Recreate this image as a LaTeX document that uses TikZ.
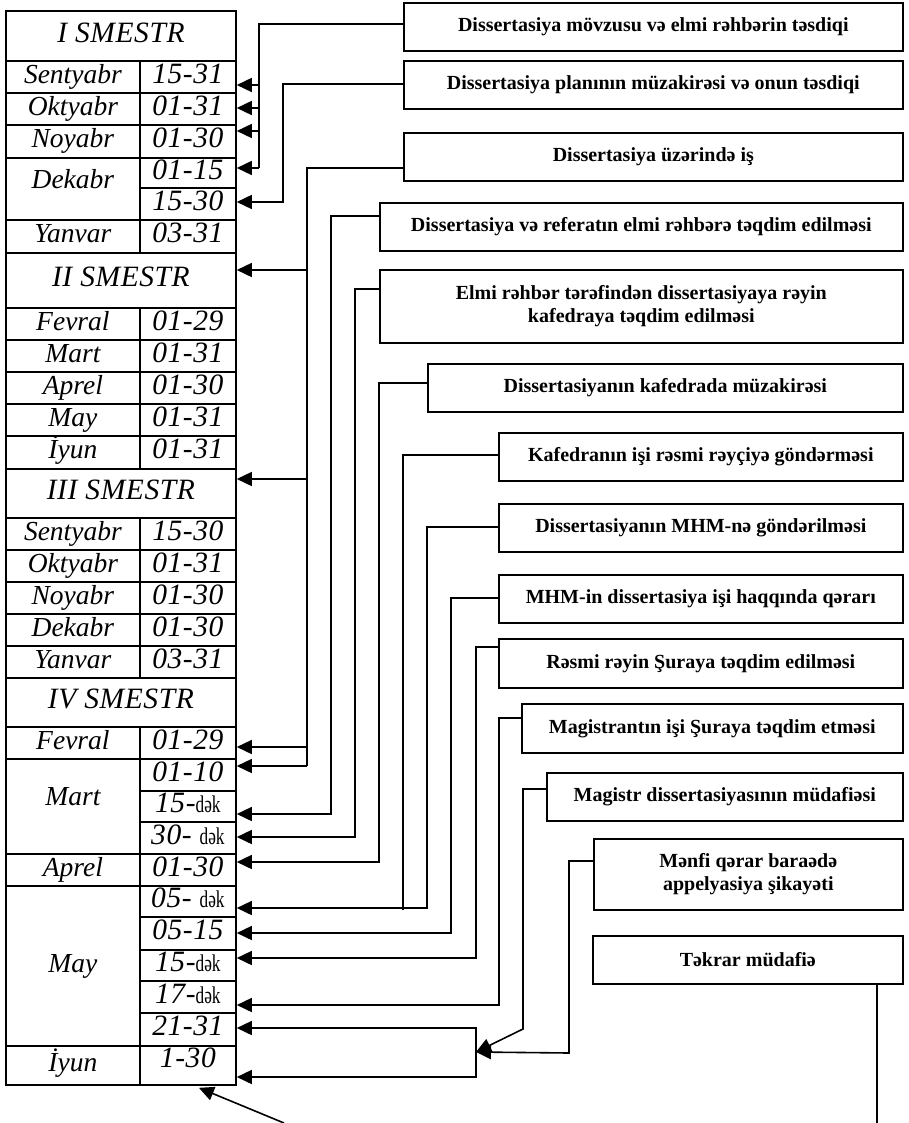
\documentclass[tikz,border=0pt]{standalone}
\usepackage{fontspec}
\setmainfont{Liberation Serif}
\newfontfamily\dakfont[FakeStretch=0.72]{Liberation Serif}
\newfontfamily\spacedfont[LetterSpace=2]{Liberation Serif}
\usetikzlibrary{arrows.meta}
\newcommand\dak[1]{{\dakfont\upshape\fontsize{24}{26}\selectfont #1}}
\newcommand\bigdate{\spacedfont\fontsize{29.5}{31}\selectfont}
\newcommand\trow[5]{%
  \node[tb,minimum width=134pt,minimum height=#3pt] (m#1) at (5,#2) {#4};
  \node[tb,minimum width=96pt,minimum height=#3pt] (d#1) at (139,#2) {\bigdate #5};}
\newcommand\srow[4]{\node[tb,minimum width=230pt,minimum height=#3pt] (#1) at (5,#2) {\bigdate #4};}
\newcommand\drow[4]{\node[tb,minimum width=96pt,minimum height=#3pt] (d#1) at (139,#2) {\bigdate #4};}
\newcommand\mrow[4]{\node[tb,minimum width=134pt,minimum height=#3pt] (m#1) at (5,#2) {#4};}
\begin{document}
\begin{tikzpicture}[x=1pt,y=-1pt,
  tb/.style={draw, line width=1.8pt, inner sep=0pt, anchor=north west,
    font=\fontsize{27.5}{30}\selectfont\itshape, text height=18pt, text depth=5pt},
  bx/.style={draw, line width=1.6pt, inner sep=0pt, anchor=north west,
    font=\fontsize{20}{23}\selectfont\bfseries, align=center},
  conn/.style={line width=1.6pt},
  arr/.style={line width=1.6pt, -{Triangle[length=15pt,width=14pt]}}]
\useasboundingbox (0,0) rectangle (909,1123);
% ---- table ----
\srow{s1}{10}{50}{I SMESTR}
\trow{a1}{60}{32}{Sentyabr}{15-31}
\trow{a2}{92}{32}{Oktyabr}{01-31}
\trow{a3}{124}{33}{Noyabr}{01-30}
\mrow{a4}{157}{62}{\raisebox{7pt}{Dekabr}}
\drow{a4}{157}{30}{01-15}
\drow{a5}{187}{32}{15-30}
\trow{a6}{219}{33}{Yanvar}{03-31}
\srow{s2}{252}{55}{II SMESTR}
\trow{b1}{307}{32}{Fevral}{01-29}
\trow{b2}{339}{32}{Mart}{01-31}
\trow{b3}{371}{32}{Aprel}{01-30}
\trow{b4}{403}{32}{May}{01-31}
\trow{b5}{435}{33}{İyun}{01-31}
\srow{s3}{468}{49}{III SMESTR}
\trow{c1}{517}{32}{Sentyabr}{15-30}
\trow{c2}{549}{32}{Oktyabr}{01-31}
\trow{c3}{581}{32}{Noyabr}{01-30}
\trow{c4}{613}{32}{Dekabr}{01-30}
\trow{c5}{645}{32}{Yanvar}{03-31}
\srow{s4}{677}{49}{IV SMESTR}
\trow{e1}{726}{32}{Fevral}{01-29}
\mrow{e2}{758}{95}{\raisebox{7pt}{Mart}}
\drow{e2}{758}{32}{01-10}
\drow{e3}{790}{31}{15-\dak{dək}}
\drow{e4}{821}{32}{30- \dak{dək}}
\trow{e5}{853}{32}{Aprel}{01-30}
\mrow{e6}{885}{160}{May}
\drow{e6}{885}{31}{05- \dak{dək}}
\drow{e7}{916}{33}{05-15}
\drow{e8}{949}{31}{15-\dak{dək}}
\drow{e9}{980}{32}{17-\dak{dək}}
\drow{e10}{1012}{33}{21-31}
\trow{e11}{1045}{39}{İyun}{\raisebox{4pt}{1-30}}
% ---- boxes ----
\node[bx,minimum width=499pt,minimum height=48pt] (B1) at (403,2) {Dissertasiya mövzusu və elmi rəhbərin təsdiqi};
\node[bx,minimum width=499pt,minimum height=48pt] (B2) at (403,60) {Dissertasiya planının müzakirəsi və onun təsdiqi};
\node[bx,minimum width=499pt,minimum height=48pt] (B3) at (403,132) {Dissertasiya üzərində iş};
\node[bx,minimum width=523pt,minimum height=48pt] (B4) at (379,202) {Dissertasiya və referatın elmi rəhbərə təqdim edilməsi};
\node[bx,minimum width=523pt,minimum height=73pt] (B5) at (379,269) {Elmi rəhbər tərəfindən dissertasiyaya rəyin\\kafedraya təqdim edilməsi};
\node[bx,minimum width=475pt,minimum height=48pt] (B6) at (427,363) {Dissertasiyanın kafedrada müzakirəsi};
\node[bx,minimum width=404pt,minimum height=48pt] (B7) at (498,432) {Kafedranın işi rəsmi rəyçiyə göndərməsi};
\node[bx,minimum width=404pt,minimum height=48pt] (B8) at (498,503) {Dissertasiyanın MHM-nə göndərilməsi};
\node[bx,minimum width=404pt,minimum height=48pt] (B9) at (498,574) {MHM-in dissertasiya işi haqqında qərarı};
\node[bx,minimum width=404pt,minimum height=49pt] (B10) at (498,638) {Rəsmi rəyin Şuraya təqdim edilməsi};
\node[bx,minimum width=381pt,minimum height=49pt] (B11) at (521,703) {Magistrantın işi Şuraya təqdim etməsi};
\node[bx,minimum width=356pt,minimum height=48pt] (B12) at (546,772) {Magistr dissertasiyasının müdafiəsi};
\node[bx,minimum width=309pt,minimum height=71pt] (B13) at (593,838) {Mənfi qərar baraədə\\appelyasiya şikayəti};
\node[bx,minimum width=310pt,minimum height=48pt] (B14) at (592,935) {Təkrar müdafiə};
% ---- connectors ----
\coordinate (t1) at (259,168);
\draw[conn] (B1.west |- 0,24) -| (t1);
\foreach \nm/\yy in {a1/85,a2/108,a3/131,a4/168}
  \draw[arr] (259,\yy) -- (d\nm.east |- 0,\yy);
\draw[arr] (B2.west |- 0,84) -| (283,202) -- (da5.east |- 0,202);
\coordinate (t3) at (307,766);
\draw[conn] (B3.west |- 0,168) -| (t3);
\draw[arr] (307,270) -- (s2.east |- 0,270);
\draw[arr] (307,479) -- (s3.east |- 0,479);
\draw[arr] (307,747) -- (de1.east |- 0,747);
\draw[arr] (t3) -- (de2.east |- 0,766);
\draw[arr] (B4.west |- 0,216) -| (331,814) -- (de3.east |- 0,814);
\draw[arr] (B5.west |- 0,289) -| (355,837) -- (de4.east |- 0,837);
\draw[arr] (B6.west |- 0,383) -| (379,862) -- (de5.east |- 0,862);
\draw[conn] (B7.west |- 0,455) -| (403,910);
\draw[arr] (B8.west |- 0,527) -| (427,908) -- (de6.east |- 0,908);
\draw[arr] (B9.west |- 0,598) -| (451,933) -- (de7.east |- 0,933);
\draw[arr] (B10.west |- 0,647) -| (476,958) -- (de8.east |- 0,958);
\draw[arr] (B11.west |- 0,718) -| (499,1005) -- (de9.east |- 0,1005);
\coordinate (br) at (476,1052);
\draw[arr] (br) -- (476,1028) -- (de10.east |- 0,1028);
\draw[arr] (br) -- (476,1077) -- (de11.east |- 0,1077);
\draw[arr] (B12.west |- 0,789) -| (523,1029) -- (br);
\draw[arr] (B13.west |- 0,861) -| (569,1053) -- (br);
\coordinate (low1) at (877,1123);
\draw[conn] (B14.south -| low1) -- (low1);
\coordinate (low2) at (284,1123);
\draw[arr] (low2) -- ([xshift=11pt,yshift=-2pt]de11.south);
\end{tikzpicture}
\end{document}
